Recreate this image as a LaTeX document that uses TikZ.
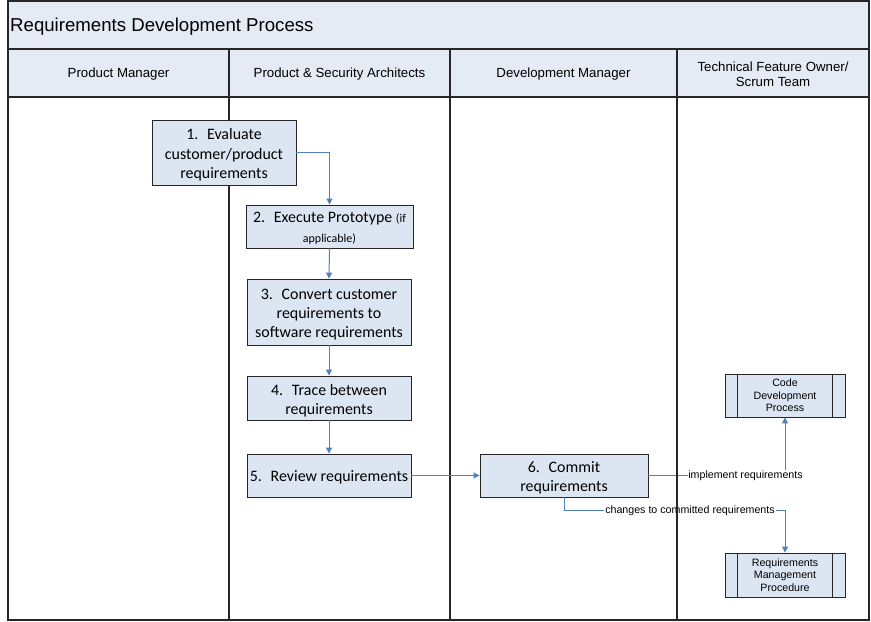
\documentclass[tikz,border=0pt]{standalone}
\usepackage{fontspec}
\setmainfont{Carlito}
\newfontfamily\arialf{Liberation Sans}
\usetikzlibrary{arrows.meta}
\definecolor{boxfill}{HTML}{DCE6F2}
\definecolor{hdrfill}{HTML}{E4EBF5}
\definecolor{arrowc}{HTML}{4F81BD}
\definecolor{linec}{HTML}{262626}
\begin{document}
\begin{tikzpicture}[x=1bp,y=-1bp,
  stepbox/.style={draw=linec, line width=0.9bp, fill=boxfill, align=center,
    font=\fontsize{16}{19.3}\selectfont, inner sep=0pt},
  subproc/.style={draw=linec, line width=0.9bp, fill=boxfill, align=center,
    font=\arialf\fontsize{10.7}{12.5}\selectfont, inner sep=0pt,
    minimum width=120bp, minimum height=43bp},
  conn/.style={draw=arrowc, line width=1bp, -{Triangle[width=6bp,length=6bp]}},
  lbl/.style={font=\arialf\fontsize{10.7}{12}\selectfont, fill=white, inner sep=0.8bp},
  hdr/.style={font=\arialf\fontsize{13.3}{15}\selectfont, align=center},
  lane/.style={draw=linec, line width=1.3bp}]
\useasboundingbox (0,0) rectangle (871,622);
% frame
\fill[hdrfill] (8,1) rectangle (869,97);
\draw[lane] (8,49) -- (869,49);
\draw[lane] (8,97) -- (869,97);
\draw[lane] (229,49) -- (229,620);
\draw[lane] (450,49) -- (450,620);
% title and headers
\node[anchor=west, font=\arialf\fontsize{18.7}{20}\selectfont, inner sep=0pt] (title) at (10,26.5) {Requirements Development Process};
\node[hdr] (h1) at (118.5,74) {Product Manager};
\node[hdr] (h2) at (339.5,74) {Product \& Security Architects};
\node[hdr] (h3) at (563.5,74) {Development Manager};
\node[hdr] (h4) at (773,74.5) {Technical Feature Owner/\\Scrum Team};
% process boxes
\node[stepbox, minimum width=144bp, minimum height=65bp] (b1) at (224,152.5)
  {\rule{0pt}{16bp}1.\hspace{0.55em}Evaluate\\customer/product\\requirements};
\node[stepbox, minimum width=167bp, minimum height=43bp] (b2) at (329.5,226.5)
  {\rule{0pt}{14bp}2.\hspace{0.55em}Execute Prototype {\fontsize{12}{14}\selectfont (if}\\[1bp]{\fontsize{12}{14}\selectfont applicable)}};
\node[stepbox, minimum width=164bp, minimum height=66bp] (b3) at (329,312)
  {\rule{0pt}{16bp}3.\hspace{0.55em}Convert customer\\requirements to\\software requirements};
\node[stepbox, minimum width=164bp, minimum height=44bp] (b4) at (329,398)
  {\rule{0pt}{16bp}4.\hspace{0.55em}Trace between\\requirements};
\node[stepbox, minimum width=164bp, minimum height=43bp] (b5) at (329,475.5)
  {\rule{0pt}{15bp}5.\hspace{0.55em}Review requirements};
\node[stepbox, minimum width=168bp, minimum height=43bp] (b6) at (564,475.5)
  {\rule{0pt}{15bp}6.\hspace{0.55em}Commit\\requirements};
% sub-process boxes
\node[subproc] (code) at (785,395.5) {Code\\Development\\Process};
\node[subproc, minimum height=44bp] (req) at (785,575) {Requirements\\Management\\Procedure};
\foreach \n in {code,req}{
  \draw[draw=linec, line width=0.9bp] ([xshift=13bp]\n.north west) -- ([xshift=13bp]\n.south west);
  \draw[draw=linec, line width=0.9bp] ([xshift=-13bp]\n.north east) -- ([xshift=-13bp]\n.south east);
}
% connectors
\draw[conn] (b1.east) -| (b2.north);
\draw[conn] (b2.south) -- (b3.north);
\draw[conn] (b3.south) -- (b4.north);
\draw[conn] (b4.south) -- (b5.north);
\draw[conn] (b5.east) -- (b6.west);
\draw[conn] (b6.east) -| (code.south);
\draw[conn] (b6.south) -- ++(0,13) coordinate (c6) -| (req.north);
\node[lbl] (limpl) at (745.5,476) {implement requirements};
\node[lbl] (lchg) at (690,510.5) {changes to committed requirements};
% last lane line and outer frame on top
\draw[lane] (677,49) -- (677,620);
\draw[lane] (8,1) rectangle (869,620);
\end{tikzpicture}
\end{document}
